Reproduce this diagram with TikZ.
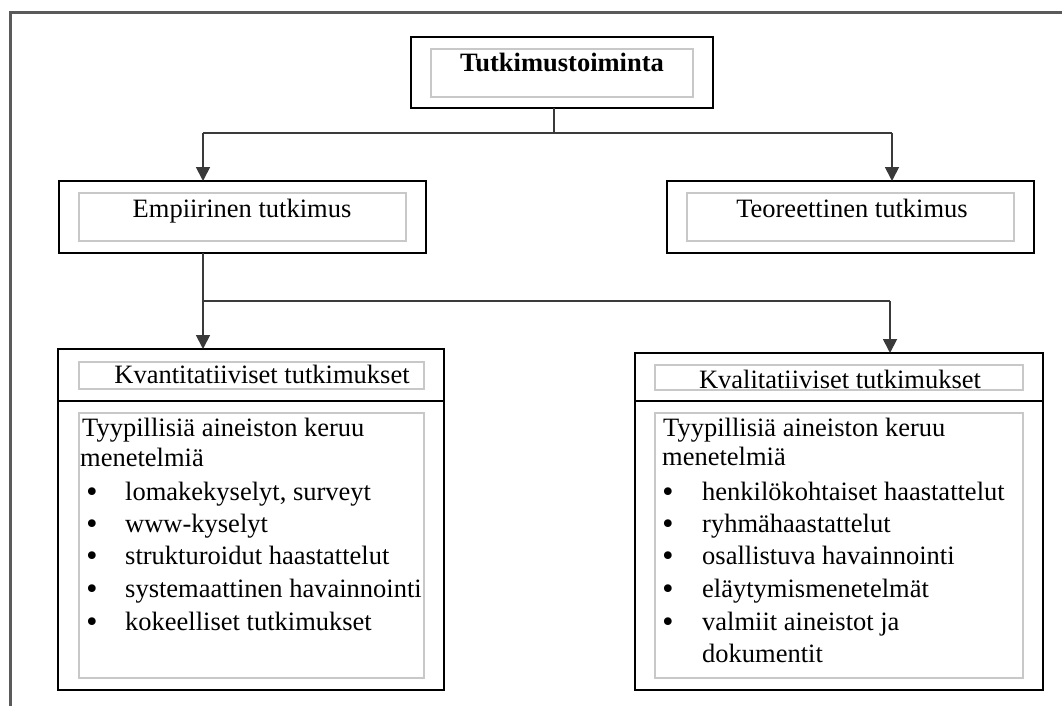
\documentclass[tikz,border=0pt]{standalone}
\usepackage{fontspec}
\setmainfont{Liberation Serif}
\newfontfamily\bulfont{DejaVu Sans}
\usetikzlibrary{arrows.meta}
\definecolor{innergray}{HTML}{C8C8C8}
\definecolor{framegray}{HTML}{5A5A5A}
\definecolor{linegray}{HTML}{3A3A3A}
\begin{document}
\begin{tikzpicture}[x=1pt,y=-1pt,
  outerbox/.style={draw=black,line width=1.8pt,inner sep=0pt,outer sep=0pt,anchor=north west},
  innerbox/.style={draw=innergray,line width=1.6pt,inner sep=0pt,outer sep=0pt,anchor=north west},
  txt/.style={inner sep=0pt,font=\fontsize{26.5}{32}\selectfont},
  conn/.style={draw=linegray,line width=1.8pt},
  arr/.style={conn,-{Triangle[width=14pt,length=14pt]}},
  bul/.style={inner sep=0pt,anchor=base,font=\bulfont\fontsize{26.5}{32}\selectfont}
]
\useasboundingbox (0,0) rectangle (1062,706);
% outer frame
\coordinate (fa) at (10,706);
\coordinate (fb) at (10,13);
\coordinate (fc) at (1062,13);
\draw[draw=framegray,line width=3pt] (fa) -- (fb) -- (fc);

% top box
\node[outerbox,minimum width=302pt,minimum height=71pt] (top) at (411,37) {};
\node[innerbox,minimum width=262pt,minimum height=48pt] (topin) at (431,49) {};
\node[txt,anchor=base,font=\fontsize{26.5}{32}\selectfont\bfseries] (toptxt) at (562,72) {Tutkimustoiminta};

% level 2
\node[outerbox,minimum width=367pt,minimum height=72pt] (emp) at (59,181) {};
\node[innerbox,minimum width=327pt,minimum height=48pt] (empin) at (79,193) {};
\node[txt,anchor=base] (emptxt) at (242,217) {Empiirinen tutkimus};

\node[outerbox,minimum width=367pt,minimum height=72pt] (teo) at (667,181) {};
\node[innerbox,minimum width=327pt,minimum height=48pt] (teoin) at (687,193) {};
\node[txt,anchor=base] (teotxt) at (852,217) {Teoreettinen tutkimus};

% connectors level 1
\coordinate (j1) at (554,133);
\coordinate (jl) at (203,133);
\coordinate (jr) at (892,133);
\draw[conn] (top.south -| j1) -- (j1);
\draw[conn] (jl) -- (jr);
\draw[arr] (jl) -- (jl |- emp.north);
\draw[arr] (jr) -- (jr |- teo.north);

% level 3 boxes
\node[outerbox,minimum width=386pt,minimum height=341pt] (kvan) at (58,349) {};
\coordinate (kvdl) at (58,401);
\coordinate (kvdr) at (444,401);
\draw[line width=1.8pt] (kvdl) -- (kvdr);
\node[innerbox,minimum width=345pt,minimum height=27pt] (kvanh) at (79,362) {};
\node[innerbox,minimum width=345pt,minimum height=265pt] (kvanb) at (79,413) {};

\node[outerbox,minimum width=408pt,minimum height=337pt] (kval) at (635,353) {};
\coordinate (kldl) at (635,401);
\coordinate (kldr) at (1043,401);
\draw[line width=1.8pt] (kldl) -- (kldr);
\node[innerbox,minimum width=368pt,minimum height=25pt] (kvalh) at (655,365) {};
\node[innerbox,minimum width=368pt,minimum height=265pt] (kvalb) at (655,413) {};

% connectors level 2
\coordinate (k1) at (203,301);
\coordinate (k2) at (890,301);
\draw[arr] (emp.south -| k1) -- (k1 |- kvan.north);
\draw[conn] (k1) -- (k2);
\draw[arr] (k2) -- (k2 |- kval.north);

% headers
\node[txt,anchor=base] (kvanht) at (262,383) {Kvantitatiiviset tutkimukset};
\node[txt,anchor=base] (kvalht) at (840,388) {Kvalitatiiviset tutkimukset};

% left body
\node[txt,anchor=base west] (l1) at (82,436) {Tyypillisiä aineiston keruu};
\node[txt,anchor=base west] (l2) at (80,466) {menetelmiä};
\node[bul] (lb1) at (92,501) {•};
\node[txt,anchor=base west] (lt1) at (125,500) {lomakekyselyt, surveyt};
\node[bul] (lb2) at (92,533) {•};
\node[txt,anchor=base west] (lt2) at (125,532) {www-kyselyt};
\node[bul] (lb3) at (92,565) {•};
\node[txt,anchor=base west] (lt3) at (125,564) {strukturoidut haastattelut};
\node[bul] (lb4) at (92,598) {•};
\node[txt,anchor=base west] (lt4) at (125,597) {systemaattinen havainnointi};
\node[bul] (lb5) at (92,631) {•};
\node[txt,anchor=base west] (lt5) at (125,630) {kokeelliset tutkimukset};

% right body
\node[txt,anchor=base west] (r1) at (663,436) {Tyypillisiä aineiston keruu};
\node[txt,anchor=base west] (r2) at (662,465) {menetelmiä};
\node[bul] (rb1) at (668,501) {•};
\node[txt,anchor=base west] (rt1) at (702,500) {henkilökohtaiset haastattelut};
\node[bul] (rb2) at (668,533) {•};
\node[txt,anchor=base west] (rt2) at (702,532) {ryhmähaastattelut};
\node[bul] (rb3) at (668,565) {•};
\node[txt,anchor=base west] (rt3) at (702,564) {osallistuva havainnointi};
\node[bul] (rb4) at (668,598) {•};
\node[txt,anchor=base west] (rt4) at (702,597) {eläytymismenetelmät};
\node[bul] (rb5) at (668,631) {•};
\node[txt,anchor=base west] (rt5) at (702,630) {valmiit aineistot ja};
\node[txt,anchor=base west] (rt6) at (702,662) {dokumentit};
\end{tikzpicture}
\end{document}
